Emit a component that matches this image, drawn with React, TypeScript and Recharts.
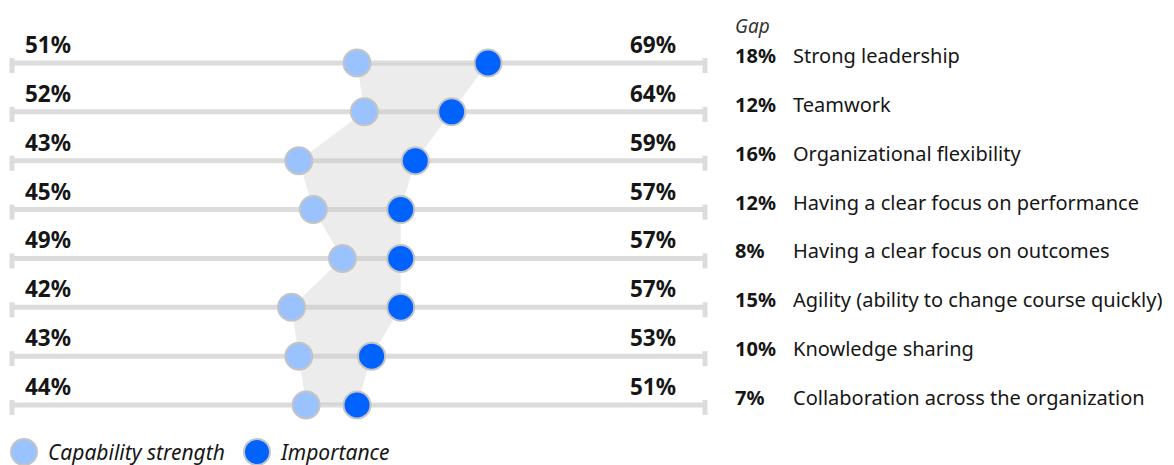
import { Area, CartesianGrid, ComposedChart, Legend, Line, XAxis, YAxis } from "recharts";

const categories = [
  "Strong leadership",
  "Teamwork",
  "Organizational flexibility",
  "Having a clear focus on performance",
  "Having a clear focus on outcomes",
  "Agility (ability to change course quickly)",
  "Knowledge sharing",
  "Collaboration across the organization",
];
const capability = [51, 52, 43, 45, 49, 42, 43, 44];
const importance = [69, 64, 59, 57, 57, 57, 53, 51];
const gaps = [18, 12, 16, 12, 8, 15, 10, 7];

const seriesNames = ["Capability strength", "Importance"];

const FONT = "'Noto Sans', sans-serif";
const INK = "#161616";
const LINE_GRAY = "#dcdcdc";
const LIGHT_BLUE = "#99c2ff";
const DARK_BLUE = "#0062ff";
const DOT_STROKE = "#c4c4c4";
const seriesColors = [LIGHT_BLUE, DARK_BLUE];

const data = categories.map((name, i) => ({
  name,
  capability: capability[i],
  importance: importance[i],
  gap: gaps[i],
  range: [capability[i], importance[i]],
}));

// left end of each row: end mark + capability value
const LeftTick = ({ x, y, payload }: any) => {
  const row = data[payload.index];
  return (
    <g>
      <line x1={x} x2={x} y1={y - 5} y2={y + 10} stroke={LINE_GRAY} strokeWidth={5} />
      <text x={x + 13} y={y - 10} fontFamily={FONT} fontWeight={700} fontSize={22.5} fill={INK}>
        {row.capability}%
      </text>
    </g>
  );
};

// right end of each row: end mark, importance value, gap and label
const RightTick = ({ x, y, payload }: any) => {
  const row = data[payload.index];
  return (
    <g>
      <line x1={x} x2={x} y1={y - 5} y2={y + 10} stroke={LINE_GRAY} strokeWidth={5} />
      <text x={x - 29} y={y - 10} textAnchor="end" fontFamily={FONT} fontWeight={700} fontSize={22.5} fill={INK}>
        {row.importance}%
      </text>
      <text x={x + 30} y={y} fontFamily={FONT} fontWeight={700} fontSize={20} fill={INK}>
        {row.gap}%
      </text>
      <text x={x + 88} y={y} fontFamily={FONT} fontSize={20} fill={INK}>
        {row.name}
      </text>
    </g>
  );
};

// "Gap" column heading above the right-hand labels
const GapHeading = ({ viewBox }: any) => (
  <text x={viewBox.x + 30} y={viewBox.y - 30} fontFamily={FONT} fontStyle="italic" fontSize={19} fill="#333">
    Gap
  </text>
);

const LegendContent = () => (
  <div style={{ display: "flex", alignItems: "center", height: 26, fontFamily: FONT, fontStyle: "italic", fontSize: 21, color: INK }}>
    {seriesNames.map((s, i) => (
      <div key={s} style={{ display: "flex", alignItems: "center", width: 233 }}>
        <svg width={30} height={30} style={{ marginRight: 9 }}>
          <circle cx={15} cy={15} r={13} fill={seriesColors[i]} stroke={DOT_STROKE} strokeWidth={2} />
        </svg>
        <span>{s}</span>
      </div>
    ))}
  </div>
);

export default function App() {
  return (
    <ComposedChart
      width={1166}
      height={457}
      data={data}
      layout="vertical"
      margin={{ top: 55, right: 0, bottom: 34, left: 0 }}
    >
      <CartesianGrid yAxisId="l" vertical={false} stroke={LINE_GRAY} strokeWidth={5} />
      <XAxis type="number" domain={[3.6, 98.8]} allowDataOverflow hide />
      <YAxis
        yAxisId="l"
        type="category"
        dataKey="name"
        width={4}
        axisLine={false}
        tickLine={false}
        tickSize={0}
        tickMargin={0}
        tick={<LeftTick />}
        interval={0}
      />
      <YAxis
        yAxisId="r"
        orientation="right"
        type="category"
        dataKey="name"
        width={469}
        axisLine={false}
        tickLine={false}
        tickSize={0}
        tickMargin={0}
        tick={<RightTick />}
        interval={0}
        label={<GapHeading />}
      />
      <Area
        yAxisId="l"
        dataKey="range"
        fill="#c8c8c8"
        fillOpacity={0.35}
        stroke="none"
        legendType="none"
        activeDot={false}
        isAnimationActive={false}
      />
      <Line
        yAxisId="l"
        dataKey="capability"
        name={seriesNames[0]}
        stroke="none"
        dot={{ r: 13.5, fill: LIGHT_BLUE, stroke: DOT_STROKE, strokeWidth: 2 }}
        activeDot={false}
        isAnimationActive={false}
      />
      <Line
        yAxisId="l"
        dataKey="importance"
        name={seriesNames[1]}
        stroke="none"
        dot={{ r: 13.5, fill: DARK_BLUE, stroke: DOT_STROKE, strokeWidth: 2 }}
        activeDot={false}
        isAnimationActive={false}
      />
      <Legend
        verticalAlign="bottom"
        align="left"
        height={26}
        content={<LegendContent />}
        wrapperStyle={{ left: 1, bottom: 0 }}
      />
    </ComposedChart>
  );
}
